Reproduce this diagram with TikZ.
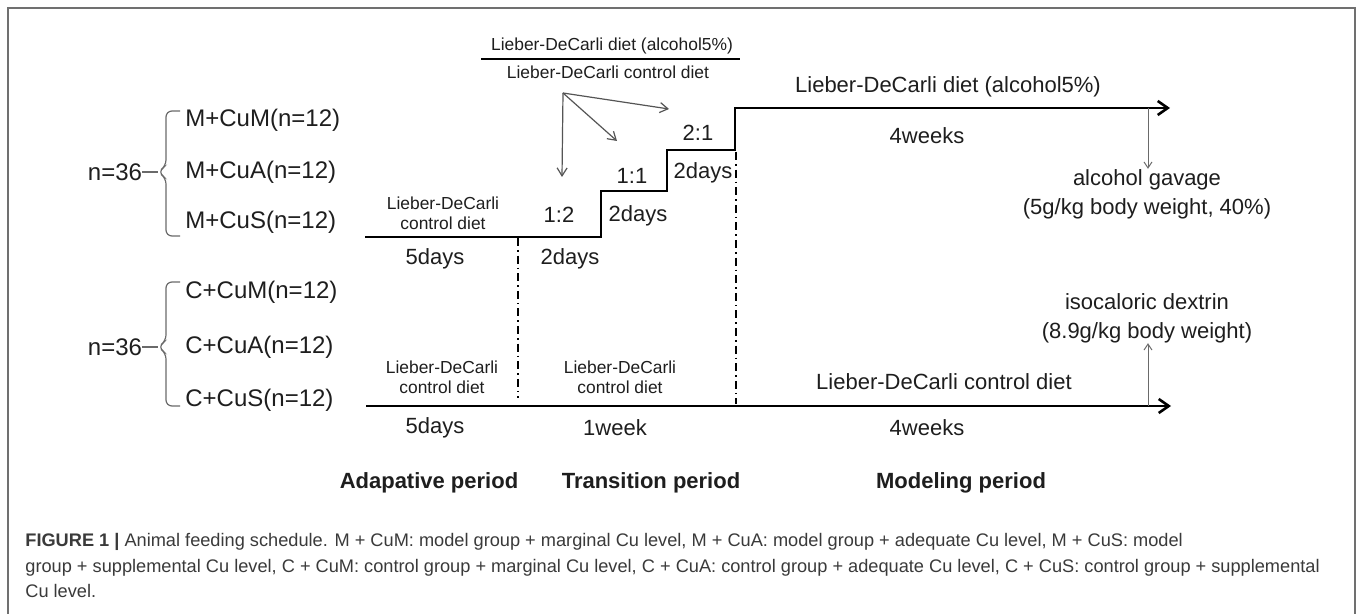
\documentclass[tikz,border=0pt]{standalone}
\usepackage{fontspec}
\setmainfont{Liberation Sans}
\usepackage{xcolor}
\definecolor{cInk}{HTML}{1E1E1E}
\definecolor{cGray}{HTML}{6A6A6A}
\definecolor{cFrame}{HTML}{707070}
\definecolor{cCap}{HTML}{3A3A3A}
\usepackage{tikz}
\usetikzlibrary{arrows.meta}
\tikzset{
  lbl-group/.style={font=\fontsize{12}{14}\selectfont,text=cInk,inner sep=0pt},
  lbl-time/.style={font=\fontsize{11}{14.5}\selectfont,text=cInk,inner sep=0pt,align=center},
  lbl-diet/.style={font=\fontsize{8.7}{10}\selectfont,text=cInk,inner sep=0pt,align=center},
  lbl-period/.style={font=\bfseries\fontsize{11}{13}\selectfont,text=cInk,inner sep=0pt},
  lbl-caption/.style={font=\fontsize{9.1}{11}\selectfont,text=cCap,inner sep=0pt,anchor=base west},
  frame-line/.style={draw=cFrame,line width=1pt},
  brace-line/.style={draw=cGray,line width=0.6pt},
  arrow-time/.style={-{Straight Barb[length=5pt,width=7pt]},line width=1.3pt,draw=black},
  arrow-note/.style={-{Straight Barb[length=3pt,width=4pt]},line width=0.5pt,draw=cGray},
  arrow-frac/.style={-{Straight Barb[length=4pt,width=5pt]},line width=0.6pt,draw=cGray!80!black},
  line-phase/.style={draw=black,line width=0.7pt,dash pattern=on 4pt off 2pt on 0.8pt off 2pt},
}
\begin{document}
\begin{tikzpicture}[x=0.5pt,y=-0.5pt]
  \useasboundingbox (0,0) rectangle (1357,614);
  \fill[white] (0,0) rectangle (1357,614);
  \draw[frame-line] (8,614) -- (8,8) -- (1355,8) -- (1355,614);

  % model groups
  \node[lbl-group] (n-model) at (115,172) {n=36};
  \node[lbl-group,anchor=west] (m-cum) at (185,120) {M+CuM(n=12)};
  \node[lbl-group,anchor=west] (m-cua) at (185,172) {M+CuA(n=12)};
  \node[lbl-group,anchor=west] (m-cus) at (185,222) {M+CuS(n=12)};
  \coordinate (brace-model) at (158,172);
  \draw[brace-line] (n-model.east) -- (brace-model);
  \draw[brace-line,rounded corners=3pt] (180,111) -| (166,166) -- (brace-model)
    -- (166,178) |- (180,236);

  % control groups
  \node[lbl-group] (n-ctrl) at (115,347) {n=36};
  \node[lbl-group,anchor=west] (c-cum) at (185,292) {C+CuM(n=12)};
  \node[lbl-group,anchor=west] (c-cua) at (185,347) {C+CuA(n=12)};
  \node[lbl-group,anchor=west] (c-cus) at (185,400) {C+CuS(n=12)};
  \coordinate (brace-ctrl) at (158,347);
  \draw[brace-line] (n-ctrl.east) -- (brace-ctrl);
  \draw[brace-line,rounded corners=3pt] (180,282) -| (166,341) -- (brace-ctrl)
    -- (166,353) |- (180,406);

  % model timeline
  \coordinate (m-start) at (365,237);
  \coordinate (m-end) at (1170,108);
  \draw[arrow-time,line join=miter] (m-start) -| (601,191) -| (667,150) -| (735,108) -- (m-end);
  \node[lbl-diet] (m-diet-adapt) at (443,213) {Lieber-DeCarli\\control diet};
  \node[lbl-time] (m-days-adapt) at (435,259) {5days};
  \node[lbl-time] (r-12) at (559,215) {1:2};
  \node[lbl-time] (m-days-12) at (570,259) {2days};
  \node[lbl-time] (r-11) at (632,176) {1:1};
  \node[lbl-time] (m-days-11) at (638,216) {2days};
  \node[lbl-time] (r-21) at (698,133) {2:1};
  \node[lbl-time] (m-days-21) at (703,173) {2days};
  \node[lbl-time] (m-diet-model) at (948,87) {Lieber-DeCarli diet (alcohol5\%)};
  \node[lbl-time] (m-weeks) at (927,136) {4weeks};

  % mixing ratio
  \node[lbl-diet] (frac-top) at (612,46) {Lieber-DeCarli diet (alcohol5\%)};
  \node[lbl-diet] (frac-bot) at (608,72) {Lieber-DeCarli control diet};
  \draw[draw=black,line width=0.6pt] (481,59) -- (740,59);
  \coordinate (frac-src) at (563,93);
  \coordinate (to-12) at (562,177);
  \coordinate (to-11) at (617,141);
  \coordinate (to-21) at (669,109);
  \draw[arrow-frac] (frac-src) -- (to-12);
  \draw[arrow-frac] (frac-src) -- (to-11);
  \draw[arrow-frac] (frac-src) -- (to-21);

  % gavage
  \node[lbl-time] (gavage) at (1147,194) {alcohol gavage\\(5g/kg body weight, 40\%)};
  \coordinate (gavage-src) at (1148,108);
  \draw[arrow-note] (gavage-src) -- (gavage-src |- gavage.north);

  % control timeline
  \coordinate (c-start) at (366,406);
  \coordinate (c-end) at (1171,406);
  \draw[arrow-time] (c-start) -- (c-end);
  \node[lbl-diet] (c-diet-adapt) at (442,377) {Lieber-DeCarli\\control diet};
  \node[lbl-time] (c-days-adapt) at (435,428) {5days};
  \node[lbl-diet] (c-diet-trans) at (620,377) {Lieber-DeCarli\\control diet};
  \node[lbl-time] (c-week-trans) at (615,428) {1week};
  \node[lbl-time] (c-diet-model) at (944,382) {Lieber-DeCarli control diet};
  \node[lbl-time] (c-weeks) at (927,428) {4weeks};

  % dextrin
  \node[lbl-time] (dextrin) at (1147,318) {isocaloric dextrin\\(8.9g/kg body weight)};
  \coordinate (dextrin-src) at (1148,406);
  \draw[arrow-note] (dextrin-src) -- (dextrin-src |- dextrin.south);

  % period borders
  \draw[line-phase] (518,238) -- (518,398);
  \draw[line-phase] (736,152) -- (736,404);
  \node[lbl-period] (p-adapt) at (429,483) {Adapative period};
  \node[lbl-period] (p-trans) at (651,483) {Transition period};
  \node[lbl-period] (p-model) at (961,483) {Modeling period};

  % caption
  \node[lbl-caption] (cap-1) at (25,547) {\textbf{FIGURE 1 |} Animal feeding schedule. M + CuM: model group + marginal Cu level, M + CuA: model group + adequate Cu level, M + CuS: model};
  \node[lbl-caption] (cap-2) at (25,573) {group + supplemental Cu level, C + CuM: control group + marginal Cu level, C + CuA: control group + adequate Cu level, C + CuS: control group + supplemental};
  \node[lbl-caption] (cap-3) at (25,598) {Cu level.};
\end{tikzpicture}
\end{document}
